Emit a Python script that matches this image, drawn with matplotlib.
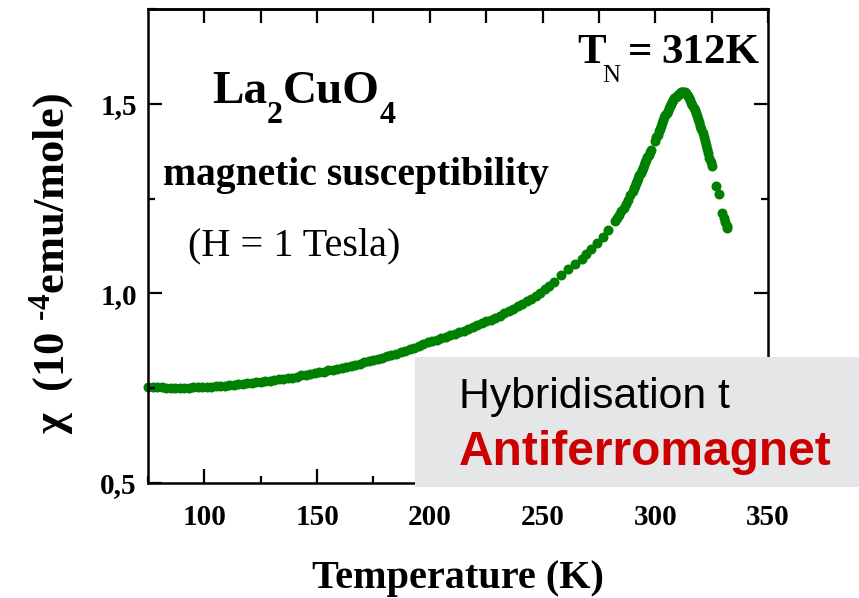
import matplotlib
matplotlib.use("Agg")
import matplotlib.pyplot as plt
from matplotlib.patches import Rectangle
from matplotlib.ticker import MultipleLocator

# Magnetic susceptibility of La2CuO4 (H = 1 T), chi in 1e-4 emu/mole
temperature_K = [
    75, 77, 79, 81, 83, 85, 87, 89, 91, 93, 95, 97, 99, 101, 103, 105, 107, 109,
    111, 113, 115, 117, 119, 121, 123, 125, 127, 129, 131, 133, 135, 137, 139,
    141, 143, 145, 147, 149, 151, 153, 155, 157, 159, 161, 163, 165, 167, 169,
    171, 173, 175, 177, 179, 181, 183, 185, 187, 189, 191, 193, 195, 197, 199,
    201, 203, 205, 207, 209, 211, 213, 215, 217, 219, 221, 223, 225, 227, 229,
    231, 233, 235, 237, 239, 241, 243, 245, 247, 249, 251, 253, 255,
    258.4, 261.3, 264.3, 267.3, 269.2, 271.7, 274.2, 276.6, 279.1, 282.1,
    283, 284, 285, 286, 287, 288, 289, 290,
    290.5, 291, 291.5, 292, 292.5, 293, 293.5, 294, 294.5, 295, 295.5, 296,
    296.5, 297, 297.5, 298, 299.8, 300.5, 301, 301.5, 302, 302.5, 303, 303.5,
    304, 304.5, 305, 305.5, 306, 306.5, 307, 307.5, 308, 308.5, 309, 309.5,
    310, 310.5, 311, 311.5, 312, 312.5, 313, 313.5, 314, 314.5, 315, 315.5,
    316, 316.5, 317, 317.5, 318, 318.5, 319, 319.5, 320, 320.5, 321, 321.5,
    322, 322.5, 323, 323.5, 324, 324.5, 325,
    326.9, 328.2, 329.8, 330.4, 331.0, 331.6, 332.0,
]
chi = [
    0.754, 0.753, 0.752, 0.752, 0.751, 0.751, 0.751, 0.751, 0.751, 0.751, 0.752,
    0.752, 0.753, 0.753, 0.754, 0.755, 0.756, 0.757, 0.758, 0.759, 0.760, 0.762,
    0.763, 0.764, 0.766, 0.767, 0.769, 0.770, 0.772, 0.773, 0.775, 0.777, 0.778,
    0.780, 0.784, 0.786, 0.788, 0.790, 0.792, 0.794, 0.797, 0.799, 0.801, 0.804,
    0.806, 0.809, 0.812, 0.815, 0.818, 0.821, 0.824, 0.827, 0.830, 0.834, 0.837,
    0.841, 0.845, 0.849, 0.853, 0.857, 0.862, 0.866, 0.871,
    0.875, 0.878, 0.882, 0.886, 0.889, 0.893, 0.897, 0.901, 0.906, 0.911, 0.916,
    0.921, 0.926, 0.931, 0.936, 0.941, 0.947, 0.953, 0.959, 0.966, 0.972, 0.979,
    0.986, 0.994, 1.002, 1.011, 1.020, 1.029,
    1.049, 1.064, 1.078, 1.091, 1.104, 1.117, 1.134, 1.150, 1.168, 1.192,
    1.199, 1.208, 1.216, 1.226, 1.236, 1.247, 1.259, 1.271,
    1.277, 1.284, 1.290, 1.297, 1.304, 1.311, 1.318, 1.325, 1.332, 1.339, 1.346,
    1.352, 1.359, 1.366, 1.373, 1.379, 1.402, 1.412, 1.419, 1.427, 1.434, 1.442,
    1.449, 1.457, 1.464, 1.470, 1.476, 1.482, 1.488, 1.494, 1.500, 1.505, 1.510,
    1.514, 1.518, 1.521, 1.524, 1.527, 1.529, 1.530, 1.531, 1.531, 1.530, 1.528,
    1.524, 1.520, 1.515, 1.509, 1.503, 1.497, 1.490, 1.483, 1.476, 1.468, 1.460,
    1.451, 1.442, 1.433, 1.423, 1.413, 1.402, 1.391, 1.380, 1.369, 1.358, 1.347,
    1.336,
    1.284, 1.262, 1.212, 1.200, 1.188, 1.178, 1.172,
]

x_ticks = [100, 150, 200, 250, 300, 350]
x_tick_labels = ["100", "150", "200", "250", "300", "350"]
y_ticks = [0.5, 1.0, 1.5]
y_tick_labels = ["0,5", "1,0", "1,5"]
top_ticks = [100, 125, 150, 175, 200, 225, 250, 275, 300, 325, 350]

W, H = 859, 598
plt.rcParams["font.family"] = ["Liberation Serif", "DejaVu Serif"]
plt.rcParams["mathtext.fontset"] = "custom"
plt.rcParams["mathtext.rm"] = "Liberation Serif:bold"
plt.rcParams["mathtext.it"] = "Liberation Serif:bold"
plt.rcParams["mathtext.bf"] = "Liberation Serif:bold"

fig = plt.figure(figsize=(W / 100, H / 100), dpi=100)
ax = fig.add_axes([148 / W, 1 - 483 / H, 620 / W, 474 / H])

ax.plot(temperature_K, chi, linestyle="none", marker="o", markersize=7.2,
        markeredgewidth=0, color="#008000", clip_on=False)

ax.set_xlim(75, 350)
ax.set_ylim(0.5, 1.75)
ax.set_xticks(x_ticks)
ax.set_xticklabels(x_tick_labels)
ax.set_yticks(y_ticks)
ax.set_yticklabels(y_tick_labels)
ax.xaxis.set_minor_locator(MultipleLocator(25))
ax.yaxis.set_minor_locator(MultipleLocator(0.25))
ax.set_axisbelow(False)

ax.tick_params(which="both", direction="in", top=False, right=True, width=1.6)
ax.tick_params(which="major", length=10)
ax.tick_params(which="minor", length=5)
ax.tick_params(axis="x", pad=15)
ax.tick_params(axis="y", pad=8)
for lab in ax.get_xticklabels() + ax.get_yticklabels():
    lab.set_fontsize(21)
    lab.set_fontweight("bold")
for sp in ax.spines.values():
    sp.set_linewidth(1.8)

top = ax.secondary_xaxis("top")
top.set_xticks(top_ticks)
top.set_xticklabels([])
top.tick_params(direction="in", length=10, width=1.6)
top.spines["top"].set_linewidth(1.8)

ax.set_xlabel("Temperature (K)", fontsize=29, fontweight="bold", va="baseline")
ax.xaxis.set_label_coords(0.5, -(588 - 483) / 474)
ax.set_ylabel(r"χ  (10 $^{\text{-}4}$emu/mole)", fontsize=32, fontweight="bold",
              va="center", ha="center")
ax.yaxis.set_label_coords((52 - 148) / 620, (483 - 264) / 474)

renderer = fig.canvas.get_renderer()


def text_run(x_px, y_px, pieces):
    """Write consecutive text pieces left to right from a pixel baseline."""
    for s, kw, dy in pieces:
        t = fig.text(x_px / W, 1 - (y_px + dy) / H, s, ha="left",
                     va="baseline", **kw)
        x_px += t.get_window_extent(renderer).width


def text_at(x_px, y_px, s, **kw):
    return fig.text(x_px / W, 1 - y_px / H, s, ha="left", va="baseline", **kw)


big = dict(fontsize=34, fontweight="bold")
sub = dict(fontsize=23, fontweight="bold")
text_run(212, 103, [("La", big, 0), ("2", sub, 20), ("CuO", big, 0), ("4", sub, 20)])

tn = dict(fontsize=31, fontweight="bold")
text_at(577, 63, "T", **tn)
text_at(602, 82, "N", fontsize=18)
text_at(628, 63, "=", **tn)
text_at(661, 63, "312K", **tn)

text_at(163, 185, "magnetic susceptibility", fontsize=28.5, fontweight="bold")
text_at(188, 255, "(H = 1 Tesla)", fontsize=29)

# Caption panel over the lower right corner
fig.add_artist(Rectangle((415 / W, 1 - 487 / H), (W - 415) / W, 130 / H,
                         transform=fig.transFigure, facecolor="#e5e6e8",
                         edgecolor="none", zorder=5))
text_at(459, 408, "Hybridisation t", fontsize=30.8, family="Liberation Sans",
        color="black", zorder=6)
text_at(459, 465, "Antiferromagnet", fontsize=34.5, family="Liberation Sans",
        fontweight="bold", color="#cc0000", zorder=6)

fig.savefig("out.png", dpi=100)
